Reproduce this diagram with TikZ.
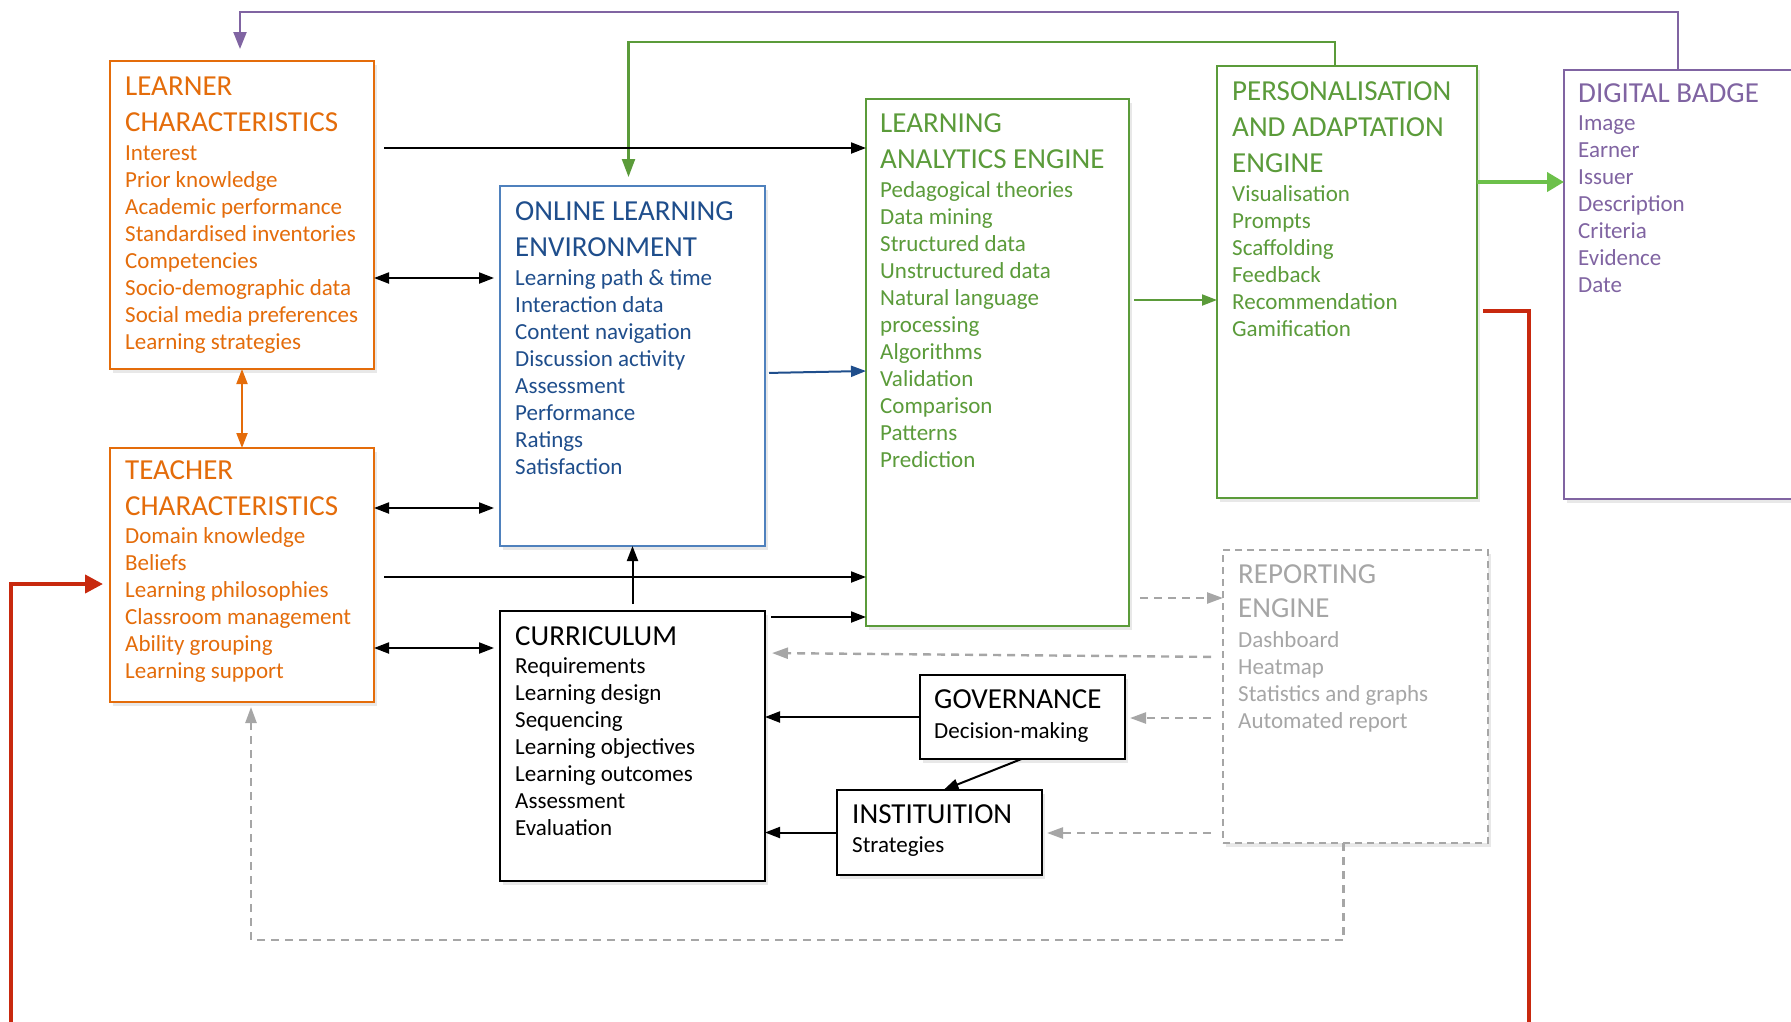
\documentclass[tikz,border=0pt]{standalone}
\usepackage{fontspec}
\setmainfont{Carlito}
\usetikzlibrary{arrows.meta,shadows}

\definecolor{orng}{HTML}{E46C0A}
\definecolor{bluebox}{HTML}{4F81BD}
\definecolor{bluetxt}{HTML}{1F4E8C}
\definecolor{grn}{HTML}{5B9B3A}
\definecolor{lgrn}{HTML}{6CC04A}
\definecolor{purp}{HTML}{8064A2}
\definecolor{gry}{HTML}{A6A6A6}
\definecolor{redl}{HTML}{C8290E}

\newcommand\hdfont{\fontsize{29}{36}\selectfont}

\begin{document}
\begin{tikzpicture}[x=1pt,y=-1pt,
  panel/.style={draw, line width=2.4pt, fill=white, inner sep=0pt, outer sep=0pt,
    anchor=north west, drop shadow={opacity=0.18, shadow xshift=3pt, shadow yshift=-4pt}},
  txt/.style={anchor=north west, inner sep=0pt, align=left, font=\fontsize{23}{27}\selectfont},
  arr/.style={line width=2pt, -{Triangle[length=15pt,width=11pt]}},
  darr/.style={line width=2pt, {Triangle[length=15pt,width=11pt]}-{Triangle[length=15pt,width=11pt]}},
  dasharr/.style={gry, line width=2.4pt, dash pattern=on 8pt off 6pt, -{Triangle[length=16pt,width=11pt]}},
  redline/.style={redl, line width=4pt},
]
\useasboundingbox (0,0) rectangle (1791,1021);
\clip (0,0) rectangle (1791,1021);

% ---------- boxes ----------
\node[panel, draw=orng, minimum width=264pt, minimum height=308pt] (learner) at (110,61) {};
\node[panel, draw=orng, minimum width=264pt, minimum height=254pt] (teacher) at (110,448) {};
\node[panel, draw=bluebox, minimum width=265pt, minimum height=360pt] (ole) at (500,186) {};
\node[panel, draw=grn, minimum width=263pt, minimum height=527pt] (lae) at (866,99) {};
\node[panel, draw=grn, minimum width=260pt, minimum height=432pt] (pae) at (1217,66) {};
\node[panel, draw=purp, minimum width=260pt, minimum height=429pt] (badge) at (1564,70) {};
\node[panel, draw=gry, line width=2pt, dash pattern=on 7pt off 5pt, minimum width=265pt, minimum height=293pt] (report) at (1223,550) {};
\node[panel, draw=black, minimum width=265pt, minimum height=270pt] (curr) at (500,611) {};
\node[panel, draw=black, minimum width=205pt, minimum height=84pt] (gov) at (920,675) {};
\node[panel, draw=black, minimum width=205pt, minimum height=85pt] (inst) at (837,790) {};

% ---------- box texts ----------
\node[txt, text=orng] (learnertext) at (125,76.5)
  {{\hdfont LEARNER}\\[9pt]{\hdfont CHARACTERISTICS}\\[2pt]Interest\\Prior knowledge\\Academic performance\\Standardised inventories\\Competencies\\Socio-demographic data\\Social media preferences\\Learning strategies};
\node[txt, text=orng] (teachertext) at (125,460.5)
  {{\hdfont TEACHER}\\[9pt]{\hdfont CHARACTERISTICS}\\[1pt]Domain knowledge\\Beliefs\\Learning philosophies\\Classroom management\\Ability grouping\\Learning support};
\node[txt, text=bluetxt] (oletext) at (515,201.5)
  {{\hdfont ONLINE LEARNING}\\[9pt]{\hdfont ENVIRONMENT}\\[2pt]Learning path \& time\\Interaction data\\Content navigation\\Discussion activity\\Assessment\\Performance\\Ratings\\Satisfaction};
\node[txt, text=grn] (laetext) at (880,113.5)
  {{\hdfont LEARNING}\\[9pt]{\hdfont ANALYTICS ENGINE}\\[2pt]Pedagogical theories\\Data mining\\Structured data\\Unstructured data\\Natural language\\processing\\Algorithms\\Validation\\Comparison\\Patterns\\Prediction};
\node[txt, text=grn] (paetext) at (1232,81.5)
  {{\hdfont PERSONALISATION}\\[9pt]{\hdfont AND ADAPTATION}\\[9pt]{\hdfont ENGINE}\\[2pt]Visualisation\\Prompts\\Scaffolding\\Feedback\\Recommendation\\Gamification};
\node[txt, text=purp] (badgetext) at (1578,83.5)
  {{\hdfont DIGITAL BADGE}\\[1pt]Image\\Earner\\Issuer\\Description\\Criteria\\Evidence\\Date};
\node[txt, text=gry] (reporttext) at (1238,564.5)
  {{\hdfont REPORTING}\\[7pt]{\hdfont ENGINE}\\[3pt]Dashboard\\Heatmap\\Statistics and graphs\\Automated report};
\node[txt, text=black] (currtext) at (515,626.5)
  {{\hdfont CURRICULUM}\\[1pt]Requirements\\Learning design\\Sequencing\\Learning objectives\\Learning outcomes\\Assessment\\Evaluation};
\node[txt, text=black] (govtext) at (934,689.5)
  {{\hdfont GOVERNANCE}\\[3pt]Decision-making};
\node[txt, text=black] (insttext) at (852,804.5)
  {{\hdfont INSTITUITION}\\[2pt]Strategies};

% ---------- feedback loops along the top ----------
\draw[purp, line width=2.2pt, -{Triangle[length=17pt,width=13pt]}]
  ([xshift=114pt]badge.north west) -- ++(0,-58) -| ([xshift=-2pt,yshift=12pt]learner.north);
\draw[grn, line width=2.2pt, -{Triangle[length=18pt,width=13pt]}]
  ([xshift=118pt]pae.north west) -- ++(0,-24) -| ([xshift=-4pt,yshift=9pt]ole.north);

% ---------- learner and teacher links ----------
\draw[arr, shorten <=10pt] (learner.east |- 0,148) -- (lae.west |- 0,148);
\draw[darr, shorten >=6pt] (learner.east |- 0,278) -- (ole.west |- 0,278);
\draw[orng, line width=2pt, {Triangle[length=15pt,width=11pt]}-{Triangle[length=15pt,width=11pt]}]
  (learner.south) -- (teacher.north);
\draw[darr, shorten >=6pt] (teacher.east |- 0,508) -- (ole.west |- 0,508);
\draw[arr, shorten <=10pt] (teacher.east |- 0,577) -- (lae.west |- 0,577);
\draw[darr, shorten >=6pt] (teacher.east |- 0,648) -- (curr.west |- 0,648);

% ---------- environment, curriculum and engines ----------
\draw[bluetxt, line width=2pt, -{Triangle[length=15pt,width=11pt]}, shorten <=4pt]
  (ole.east |- 0,373) -- (lae.west |- 0,371);
\draw[arr, shorten <=7pt] (curr.north) -- (ole.south);
\draw[arr, shorten <=6pt] (curr.east |- 0,617) -- (lae.west |- 0,617);
\draw[grn, line width=2pt, -{Triangle[length=15pt,width=11pt]}, shorten <=5pt]
  (lae.east |- 0,300) -- (pae.west |- 0,300);
\draw[lgrn, line width=4pt, -{Triangle[length=17pt,width=19pt]}]
  (pae.east |- 0,182) -- (badge.west |- 0,182);

% ---------- governance and institution ----------
\draw[arr] (gov.west) -- (curr.east |- gov.west);
\draw[arr] ([xshift=-1pt]gov.south) -- ([xshift=4pt]inst.north);
\draw[arr] (inst.west) -- (curr.east |- inst.west);

% ---------- reporting engine ----------
\draw[dasharr, shorten <=11pt] (lae.east |- 0,598) -- (report.west |- 0,598);
\draw[dasharr, shorten <=12pt, shorten >=7pt] (report.west |- 0,657) -- (curr.east |- 0,653);
\draw[dasharr, shorten <=12pt, shorten >=5pt] (report.west |- 0,718) -- (gov.east |- 0,718);
\draw[dasharr, shorten <=12pt, shorten >=5pt] (report.west |- 0,833) -- (inst.east |- 0,833);
\draw[dasharr] ([xshift=-12pt]report.south) -- ++(0,97) -| ([xshift=9pt,yshift=-5pt]teacher.south);

% ---------- red return line ----------
\coordinate (redfootright) at (1529,1030);
\coordinate (redfootleft) at (11,1030);
\draw[redline, shorten <=6pt] (pae.east |- 0,311) -| (redfootright);
\draw[redline, -{Triangle[length=18pt,width=18pt]}, shorten >=7pt]
  (redfootleft) |- (teacher.west |- 0,584);
\end{tikzpicture}
\end{document}
